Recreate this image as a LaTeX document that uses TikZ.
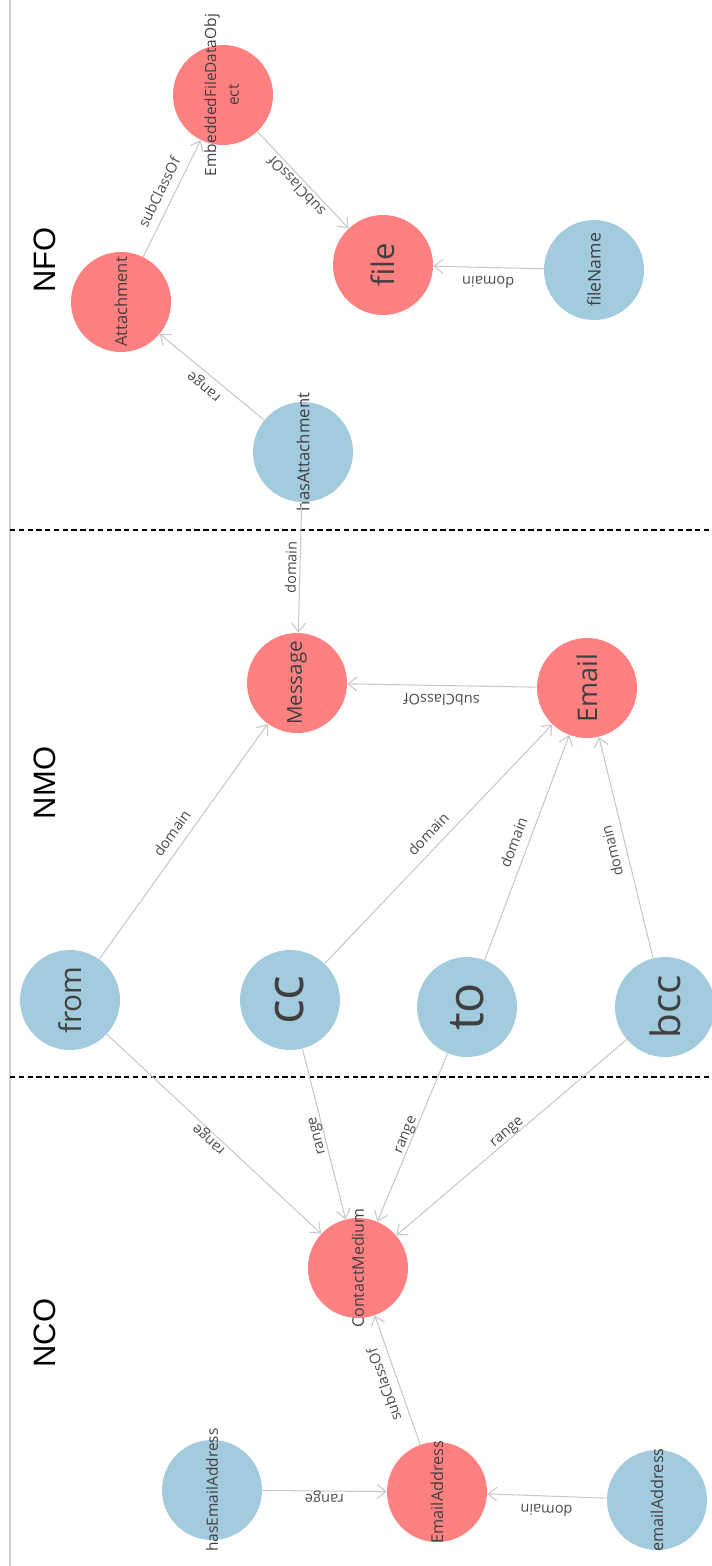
\documentclass[tikz,border=0pt]{standalone}
\usepackage{fontspec}
\setmainfont{Liberation Sans}
\newfontfamily\nodefont{Open Sans}
\usetikzlibrary{arrows.meta}

\definecolor{clsred}{RGB}{255,128,128}
\definecolor{propblue}{RGB}{163,203,222}
\definecolor{linkgray}{RGB}{200,200,200}

% class names may run past the circle, so they take no width
\newcommand{\cname}[1]{\makebox[0pt]{#1}}

\tikzset{
  cls/.style={circle, fill=clsred, minimum size=2cm, inner sep=0pt, text=black!75, rotate=90},
  prop/.style={cls, fill=propblue},
  fs/.style={font=\nodefont\fontsize{#1}{13}\selectfont},
  link/.style={draw=linkgray, line width=0.6pt, -{Straight Barb[length=5pt,width=8pt]}},
  lbl/.style={midway, sloped, allow upside down, above=1.5pt, inner sep=2pt,
    font=\nodefont\fontsize{8.3}{10}\selectfont, text=black!70,
    text height=1.5ex, text depth=.25ex},
  flip/.style={rotate=180},
  onto/.style={font=\fontsize{17.6}{20}\selectfont, rotate=90}
}

\begin{document}
\begin{tikzpicture}[x=0.02cm, y=-0.02cm]
    \useasboundingbox (0,0) rectangle (711,1566);

    % frame and the three ontology bands
    \draw[black!20, line width=0.6pt] (10,0) -- (10,1566);
    \draw[dash pattern=on 3pt off 2pt, line width=0.6pt] (10,530) -- (711,530);
    \draw[dash pattern=on 3pt off 2pt, line width=0.6pt] (10,1077) -- (711,1077);
    \node[onto] (nfo) at (45,260) {NFO};
    \node[onto] (nmo) at (45,783) {NMO};
    \node[onto] (nco) at (45,1333) {NCO};

    % NFO
    \node[cls, fs=8.8] (emb) at (223,95) {\cname{\begin{tabular}{@{}c@{}}EmbeddedFileDataObj\\ect\end{tabular}}};
    \node[cls, fs=9.4] (att) at (121,302) {\cname{Attachment}};
    \node[cls, fs=17.6] (file) at (383,265) {\cname{file}};
    \node[prop, fs=10] (fname) at (594,270) {\cname{fileName}};
    \node[prop, fs=9.5] (hasatt) at (303,452) {\cname{hasAttachment}};

    % NMO
    \node[cls, fs=11.7] (msg) at (297,683) {\cname{Message}};
    \node[cls, fs=15.4] (email) at (587,688) {\cname{Email}};
    \node[prop, fs=17] (from) at (70,1000) {\cname{from}};
    \node[prop, fs=29.6] (cc) at (290,1000) {\cname{cc}};
    \node[prop, fs=28.5] (to) at (467,1007) {\cname{to}};
    \node[prop, fs=23] (bcc) at (665,1007) {\cname{bcc}};

    % NCO
    \node[cls, fs=9.1] (cm) at (358,1268) {\cname{ContactMedium}};
    \node[prop, fs=8.8] (hasea) at (212,1490) {\cname{hasEmailAddress}};
    \node[cls, fs=9.3] (ea) at (437,1492) {\cname{EmailAddress}};
    \node[prop, fs=9.3] (eaddr) at (657,1500) {\cname{emailAddress}};

    \draw[link] (att) -- node[lbl]{subClassOf} (emb);
    \draw[link] (emb) -- node[lbl, flip]{subClassOf} (file);
    \draw[link] (fname) -- node[lbl]{domain} (file);
    \draw[link] (hasatt) -- node[lbl]{range} (att);
    \draw[link] (hasatt) -- node[lbl, flip]{domain} (msg);

    \draw[link] (email) -- node[lbl]{subClassOf} (msg);
    \draw[link] (from) -- node[lbl]{domain} (msg);
    \draw[link] (cc) -- node[lbl]{domain} (email);
    \draw[link] (to) -- node[lbl]{domain} (email);
    \draw[link] (bcc) -- node[lbl]{domain} (email);

    \draw[link] (from) -- node[lbl, flip]{range} (cm);
    \draw[link] (cc) -- node[lbl, flip]{range} (cm);
    \draw[link] (to) -- node[lbl, flip]{range} (cm);
    \draw[link] (bcc) -- node[lbl, flip]{range} (cm);
    \draw[link] (ea) -- node[lbl]{subClassOf} (cm);
    \draw[link] (hasea) -- node[lbl, flip]{range} (ea);
    \draw[link] (eaddr) -- node[lbl]{domain} (ea);
\end{tikzpicture}
\end{document}
